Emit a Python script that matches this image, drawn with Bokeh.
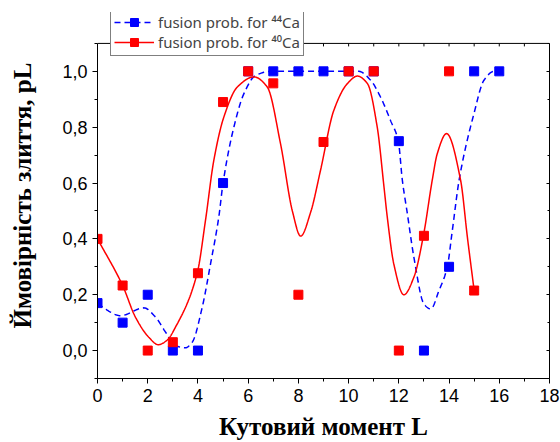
import numpy as np
from bokeh.plotting import figure
from bokeh.models import (FixedTicker, LinearAxis, CustomJSTickFormatter, Span,
                          Legend, LegendItem, Range1d, ColumnDataSource)
from bokeh.embed import file_html
from bokeh.resources import INLINE

# ---- data ----
L_ca44 = [0, 1, 2, 3, 4, 5, 6, 7, 8, 9, 10, 11, 12, 13, 14, 15, 16]
p_ca44 = [0.17, 0.10, 0.20, 0.0, 0.0, 0.60, 1.0, 1.0, 1.0, 1.0, 1.0, 1.0, 0.75, 0.0, 0.30, 1.0, 1.0]

L_ca40 = [0, 1, 2, 3, 4, 5, 6, 7, 8, 9, 10, 11, 12, 13, 14, 15]
p_ca40 = [0.40, 0.233, 0.0, 0.03, 0.277, 0.89, 1.0, 0.957, 0.20, 0.747, 1.0, 1.0, 0.0, 0.411, 1.0, 0.215]

# smooth curve traces (knots of the drawn curves)
curve44_L = [0, 0.92, 1.85, 2.31, 2.71, 3.1, 3.5, 3.77, 4.17, 4.5, 4.83, 5.0, 5.43, 5.83,
             6.29, 6.9, 10.4, 10.88, 11.27, 11.67, 11.98, 12.14, 12.34, 12.6, 13.0, 13.27,
             13.6, 13.93, 14.13, 14.4, 14.99, 15.39, 15.79, 16.0]
curve44_p = [0.167, 0.125, 0.153, 0.12, 0.066, 0.018, 0.01, 0.03, 0.155, 0.31, 0.478, 0.60,
             0.80, 0.92, 0.985, 1.0, 1.0, 0.968, 0.908, 0.824, 0.75, 0.61, 0.49, 0.334, 0.167,
             0.149, 0.215, 0.30, 0.43, 0.61, 0.848, 0.968, 1.0, 1.0]

curve40_L = [0, 1.0, 1.51, 2.04, 2.42, 2.78, 3.1, 3.97, 4.3, 4.63, 5.03, 5.57, 6.23, 6.76,
             7.29, 7.76, 8.09, 8.49, 8.88, 9.41, 9.95, 10.35, 10.75, 11.14, 11.41, 11.54,
             11.8, 12.2, 12.6, 12.98, 13.33, 13.53, 13.9, 14.46, 14.73, 15.0]
curve40_p = [0.40, 0.233, 0.12, 0.048, 0.021, 0.038, 0.083, 0.277, 0.466, 0.68, 0.836, 0.944,
             0.98, 0.944, 0.74, 0.50, 0.41, 0.496, 0.645, 0.86, 0.956, 0.983, 0.956, 0.80,
             0.585, 0.478, 0.31, 0.20, 0.263, 0.412, 0.61, 0.705, 0.777, 0.61, 0.406, 0.215]

x_lim = (0, 18)
y_lim = (-0.1, 1.1)
x_major = [0, 2, 4, 6, 8, 10, 12, 14, 16, 18]
x_minor = [1, 3, 5, 7, 9, 11, 13, 15, 17]
y_major = [0.0, 0.2, 0.4, 0.6, 0.8, 1.0]
y_minor = [-0.1, 0.1, 0.3, 0.5, 0.7, 0.9, 1.1]

x_title = "Кутовий момент L"
y_title = "Ймовірність злиття, pL"
label44 = "fusion prob. for \u2074\u2074Ca"
label40 = "fusion prob. for \u2074\u2070Ca"


def pchip(xk, yk, n_per=24):
    xk = np.asarray(xk, float)
    yk = np.asarray(yk, float)
    h = np.diff(xk)
    d = np.diff(yk) / h
    n = len(xk)
    m = np.zeros(n)
    for i in range(1, n - 1):
        if d[i - 1] * d[i] > 0:
            w1 = 2 * h[i] + h[i - 1]
            w2 = h[i] + 2 * h[i - 1]
            m[i] = (w1 + w2) / (w1 / d[i - 1] + w2 / d[i])
    m[0] = d[0]
    m[-1] = d[-1]
    xs, ys = [], []
    for i in range(n - 1):
        t = np.linspace(0, 1, n_per, endpoint=(i == n - 2))
        h00 = 2 * t**3 - 3 * t**2 + 1
        h10 = t**3 - 2 * t**2 + t
        h01 = -2 * t**3 + 3 * t**2
        h11 = t**3 - t**2
        xs.append(xk[i] + t * h[i])
        ys.append(h00 * yk[i] + h10 * h[i] * m[i] + h01 * yk[i + 1] + h11 * h[i] * m[i + 1])
    return np.concatenate(xs), np.concatenate(ys)


c44x, c44y = pchip(curve44_L, curve44_p)
c40x, c40y = pchip(curve40_L, curve40_p)

# layout: the plotting frame is extended upward (headroom) so that the legend,
# which straddles the top border line, is not clipped.
W, H = 560, 442
border_l, border_r, border_t, border_b = 97, 11, 12, 63
axes_h_px = 336  # height of the boxed axes area
frame_h = H - border_t - border_b
y_top = y_lim[0] + (y_lim[1] - y_lim[0]) * frame_h / axes_h_px
px_per_y = axes_h_px / (y_lim[1] - y_lim[0])

p = figure(width=W, height=H, output_backend="svg", toolbar_location=None,
           x_range=Range1d(*x_lim), y_range=Range1d(y_lim[0], y_top),
           min_border_left=border_l, min_border_right=border_r,
           min_border_top=border_t, min_border_bottom=border_b)
p.xgrid.visible = False
p.ygrid.visible = False
p.outline_line_color = None
p.background_fill_color = "white"
p.border_fill_color = "white"

tick_font = "Liberation Sans"
legend_font = "Noto Sans"
title_font = "Liberation Serif"
xfmt = CustomJSTickFormatter(code="return tick.toFixed(0);")
yfmt = CustomJSTickFormatter(code="return tick.toFixed(1).replace('.', ',');")
empty = CustomJSTickFormatter(code="return '';")

xa = p.xaxis[0]
xa.ticker = FixedTicker(ticks=x_major, minor_ticks=x_minor)
xa.formatter = xfmt
xa.axis_label = x_title
xa.axis_label_standoff = 8
ya = p.yaxis[0]
ya.ticker = FixedTicker(ticks=y_major, minor_ticks=y_minor)
ya.formatter = yfmt
ya.axis_label = y_title
ya.axis_label_standoff = 23
ya.bounds = y_lim
for ax in (xa, ya):
    ax.axis_line_color = "black"
    ax.axis_line_width = 1
    ax.major_tick_line_color = "black"
    ax.minor_tick_line_color = "black"
    ax.major_tick_in = 0
    ax.major_tick_out = 5
    ax.minor_tick_in = 0
    ax.minor_tick_out = 3
    ax.major_label_text_font = tick_font
    ax.major_label_text_font_size = "18px"
    ax.major_label_text_color = "black"
    ax.major_label_standoff = 5
    ax.axis_label_text_font = title_font
    ax.axis_label_text_font_style = "bold"
    ax.axis_label_text_font_size = "25px"
    ax.axis_label_text_color = "black"

right = LinearAxis(ticker=FixedTicker(ticks=y_major, minor_ticks=y_minor), formatter=empty,
                   bounds=y_lim)
right.axis_line_color = "black"
right.major_tick_line_color = "black"
right.minor_tick_line_color = "black"
right.major_tick_in = 3
right.major_tick_out = 0
right.minor_tick_in = 2
right.minor_tick_out = 0
right.major_label_standoff = 0
right.major_label_text_font_size = "1px"
p.add_layout(right, "right")

# top border line with small inward ticks
p.add_layout(Span(location=y_lim[1], dimension="width", line_color="black", line_width=1))
top_ticks = x_major + x_minor
p.segment(x0=top_ticks, y0=[y_lim[1]] * len(top_ticks), x1=top_ticks,
          y1=[y_lim[1] - 3.0 / px_per_y] * len(top_ticks), line_color="black", line_width=1)

blue = "#0000FF"
red = "#FF0000"
src44 = ColumnDataSource(dict(x=L_ca44, y=p_ca44))
src40 = ColumnDataSource(dict(x=L_ca40, y=p_ca40))
cs44 = ColumnDataSource(dict(x=c44x, y=c44y))
cs40 = ColumnDataSource(dict(x=c40x, y=c40y))

l44 = p.line("x", "y", source=cs44, line_color=blue, line_width=1.5, line_dash="6 4")
s44 = p.scatter("x", "y", source=src44, marker="square", size=9, fill_color=blue, line_color=blue)
l40 = p.line("x", "y", source=cs40, line_color=red, line_width=1.5)
s40 = p.scatter("x", "y", source=src40, marker="square", size=9, fill_color=red, line_color=red)

legend = Legend(items=[LegendItem(label=label44, renderers=[l44, s44]),
                       LegendItem(label=label40, renderers=[l40, s40])],
                location=(13, 322), margin=0, padding=3, spacing=0,
                glyph_width=40, glyph_height=20, label_height=20, label_standoff=4,
                label_text_font=legend_font, label_text_font_size="15px",
                border_line_color="black", border_line_width=1,
                background_fill_color="white", background_fill_alpha=1.0)
p.add_layout(legend)

open("out.html", "w").write(file_html(p, INLINE))
